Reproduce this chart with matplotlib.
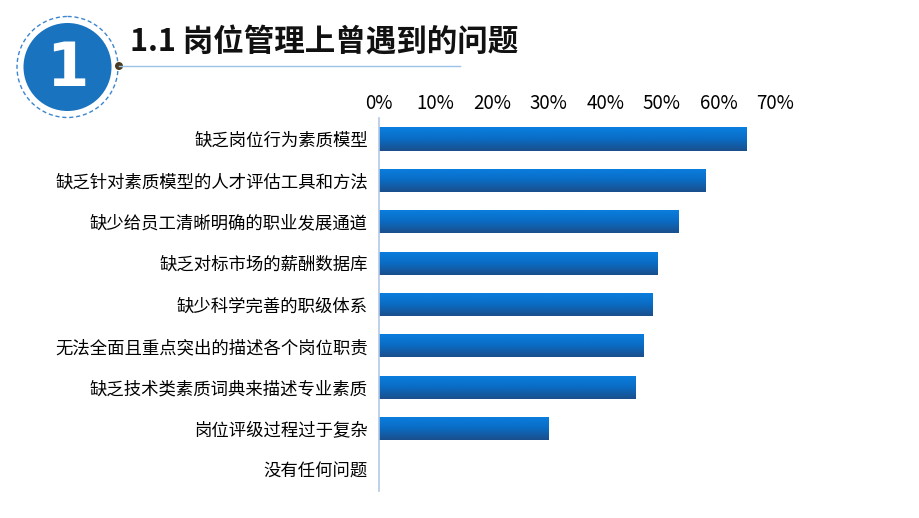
import numpy as np
import matplotlib.pyplot as plt
from matplotlib.colors import LinearSegmentedColormap
from matplotlib.patches import Circle

plt.rcParams['font.family'] = ['Noto Sans CJK SC', 'DejaVu Sans']

# 数据
categories = ['缺乏岗位行为素质模型', '缺乏针对素质模型的人才评估工具和方法',
              '缺少给员工清晰明确的职业发展通道', '缺乏对标市场的薪酬数据库',
              '缺少科学完善的职级体系', '无法全面且重点突出的描述各个岗位职责',
              '缺乏技术类素质词典来描述专业素质', '岗位评级过程过于复杂', '没有任何问题']
values = [0.65, 0.577, 0.53, 0.493, 0.484, 0.467, 0.453, 0.30, 0.0]
ticks = [0, 0.1, 0.2, 0.3, 0.4, 0.5, 0.6, 0.7]
tick_labels = ['0%', '10%', '20%', '30%', '40%', '50%', '60%', '70%']
title = '1.1 岗位管理上曾遇到的问题'

fig = plt.figure(figsize=(9.2, 5.18), dpi=100)

# 标题区域
deco = fig.add_axes([0, 0, 1, 1])
deco.set_xlim(0, 920)
deco.set_ylim(518, 0)
deco.axis('off')
deco.add_patch(Circle((67.5, 67), 50.5, fill=False, ec='#3c86d0', lw=1.0, ls=(0, (3, 2))))
deco.add_patch(Circle((67.5, 67), 44, fc='#1a73be', ec='none'))
deco.text(67.5, 70, '1', color='white', fontsize=44, fontweight='bold',
          ha='center', va='center', family=['DejaVu Sans'])
deco.plot([119, 460], [66, 66], color='#9cc2e8', lw=1.0)
deco.add_patch(Circle((119, 66), 4, fc='#4a3c22', ec='none'))
deco.text(130, 42, title, fontsize=22, fontweight='bold', ha='left', va='center', color='#111111')

# 条形图
ax = fig.add_axes([379 / 920, 1 - 490.7 / 518, (775 - 379) / 920, (490.7 - 118.3) / 518])
ax.set_zorder(2)
ax.patch.set_alpha(0)
y = np.arange(len(categories))
bars = ax.barh(y, values, height=0.56, color='none')
ax.set_xlim(0, 0.7)
ax.set_ylim(len(categories) - 0.5, -0.5)

cmap = LinearSegmentedColormap.from_list('bar', ['#0a7fe0', '#0a6cc4', '#1b4f8c'])
grad = np.linspace(0, 1, 64).reshape(-1, 1)
for b in bars:
    if b.get_width() <= 0:
        continue
    x0, y0 = b.get_x(), b.get_y()
    w, h = b.get_width(), b.get_height()
    im = ax.imshow(grad, cmap=cmap, aspect='auto', extent=(x0, x0 + w, y0 + h, y0),
                   origin='upper', zorder=2)
    im.set_clip_path(b)

ax.set_xticks(ticks)
ax.set_xticklabels(tick_labels, fontsize=13.5)
ax.xaxis.tick_top()
ax.set_yticks(y)
ax.set_yticklabels(categories, fontsize=12.5)
ax.tick_params(length=0)
ax.tick_params(axis='y', pad=8)
ax.tick_params(axis='x', pad=3)
for s in ['top', 'right', 'bottom']:
    ax.spines[s].set_visible(False)
ax.spines['left'].set_color('#b4c8e4')
ax.spines['left'].set_linewidth(1.2)

fig.savefig('out.png', dpi=100)
